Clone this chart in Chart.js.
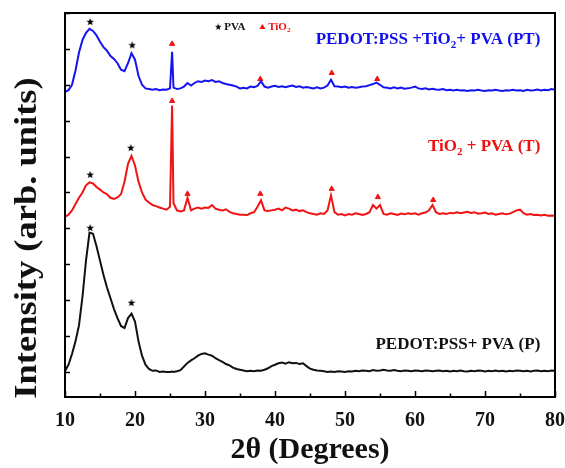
<!DOCTYPE html>
<html>
<head>
<meta charset="utf-8">
<script src="https://cdn.jsdelivr.net/npm/chart.js@4.4.0/dist/chart.umd.min.js"></script>
<style>
  html, body { margin: 0; padding: 0; background: #fff; }
  #wrap { width: 565px; height: 468px; }
</style>
</head>
<body>
<div id="wrap"><canvas id="xrd"></canvas></div>
<script>
// 2-theta grid (degrees)
var twoTheta = [
  10.0, 10.5, 11.0, 11.5, 12.0, 12.5, 13.0, 13.5, 14.0, 14.5,
  15.0, 15.5, 16.0, 16.5, 17.0, 17.5, 18.0, 18.5, 19.0, 19.5,
  20.0, 20.5, 21.0, 21.5, 22.0, 22.5, 23.0, 23.5, 24.0, 24.5,
  25.0, 25.3, 25.5, 26.0, 26.5, 27.0, 27.5, 28.0, 28.5, 29.0, 29.5,
  30.0, 30.5, 31.0, 31.5, 32.0, 32.5, 33.0, 33.5, 34.0, 34.5,
  35.0, 35.5, 36.0, 36.5, 37.0, 37.5, 38.0, 38.5, 39.0, 39.5,
  40.0, 40.5, 41.0, 41.5, 42.0, 42.5, 43.0, 43.5, 44.0, 44.5,
  45.0, 45.5, 46.0, 46.5, 47.0, 47.5, 48.0, 48.5, 49.0, 49.5,
  50.0, 50.5, 51.0, 51.5, 52.0, 52.5, 53.0, 53.5, 54.0, 54.5,
  55.0, 55.5, 56.0, 56.5, 57.0, 57.5, 58.0, 58.5, 59.0, 59.5,
  60.0, 60.5, 61.0, 61.5, 62.0, 62.5, 63.0, 63.5, 64.0, 64.5,
  65.0, 65.5, 66.0, 66.5, 67.0, 67.5, 68.0, 68.5, 69.0, 69.5,
  70.0, 70.5, 71.0, 71.5, 72.0, 72.5, 73.0, 73.5, 74.0, 74.5,
  75.0, 75.5, 76.0, 76.5, 77.0, 77.5, 78.0, 78.5, 79.0, 79.5,
  80.0
];

// PEDOT:PSS + TiO2 + PVA (PT), stacked offset included
var seriesPT = [
  7.80, 7.85, 8.00, 8.40, 8.90, 9.25, 9.45, 9.56, 9.50, 9.38,
  9.20, 9.05, 8.95, 8.80, 8.72, 8.60, 8.42, 8.38, 8.60, 8.88,
  8.70, 8.25, 8.00, 7.90, 7.88, 7.86, 7.88, 7.85, 7.87, 7.86,
  7.90, 8.92, 7.92, 7.88, 7.90, 7.95, 8.05, 7.98, 8.05, 8.10, 8.08,
  8.12, 8.10, 8.13, 8.08, 8.10, 8.05, 8.02, 8.00, 7.98, 7.95,
  7.90, 7.92, 7.90, 7.95, 7.93, 7.97, 8.10, 7.95, 7.92, 7.95,
  7.97, 7.94, 7.96, 7.93, 7.96, 7.98, 7.94, 7.96, 7.92, 7.94,
  7.92, 7.90, 7.93, 7.90, 7.92, 7.98, 8.14, 7.96, 7.95, 7.93,
  7.95, 7.92, 7.94, 7.92, 7.93, 7.95, 7.96, 7.99, 8.02, 8.06,
  8.00, 7.93, 7.92, 7.90, 7.93, 7.90, 7.92, 7.89, 7.90, 7.92,
  7.95, 7.90, 7.88, 7.90, 7.87, 7.89, 7.87, 7.86, 7.88, 7.85,
  7.86, 7.84, 7.86, 7.84, 7.85, 7.83, 7.85, 7.84, 7.86, 7.84,
  7.83, 7.85, 7.84, 7.86, 7.84, 7.83, 7.85, 7.84, 7.86, 7.84,
  7.85, 7.83, 7.86, 7.84, 7.85, 7.87, 7.84, 7.86, 7.85, 7.88,
  7.86
];

// TiO2 + PVA (T)
var seriesT = [
  4.32, 4.38, 4.50, 4.68, 4.85, 5.00, 5.20, 5.28, 5.25, 5.15,
  5.08, 5.00, 4.95, 4.85, 4.82, 4.86, 4.95, 5.30, 5.80, 6.02,
  5.75, 5.30, 5.00, 4.80, 4.72, 4.65, 4.62, 4.58, 4.55, 4.52,
  4.60, 7.42, 4.70, 4.50, 4.47, 4.50, 4.85, 4.50, 4.55, 4.58, 4.55,
  4.58, 4.57, 4.65, 4.55, 4.52, 4.50, 4.53, 4.46, 4.42, 4.40,
  4.38, 4.38, 4.37, 4.42, 4.45, 4.60, 4.78, 4.50, 4.48, 4.50,
  4.52, 4.55, 4.50, 4.58, 4.55, 4.50, 4.52, 4.48, 4.50, 4.45,
  4.42, 4.40, 4.38, 4.42, 4.40, 4.50, 4.92, 4.45, 4.38, 4.40,
  4.36, 4.40, 4.38, 4.42, 4.40, 4.37, 4.40, 4.45, 4.65, 4.55,
  4.65, 4.40, 4.38, 4.42, 4.40, 4.37, 4.41, 4.39, 4.42, 4.40,
  4.42, 4.38, 4.42, 4.44, 4.50, 4.65, 4.45, 4.40, 4.42, 4.40,
  4.43, 4.42, 4.45, 4.42, 4.44, 4.46, 4.43, 4.45, 4.41, 4.42,
  4.44, 4.40, 4.42, 4.38, 4.40, 4.42, 4.39, 4.41, 4.45, 4.50,
  4.52, 4.42, 4.38, 4.40, 4.37, 4.38, 4.36, 4.38, 4.35, 4.36,
  4.35
];

// PEDOT:PSS + PVA (P)
var seriesP = [
  0.02, 0.20, 0.50, 0.85, 1.30, 2.10, 3.10, 3.88, 3.85, 3.50,
  3.10, 2.70, 2.35, 2.05, 1.75, 1.50, 1.28, 1.22, 1.50, 1.62,
  1.40, 0.85, 0.45, 0.20, 0.08, 0.03, 0.04, 0.00, 0.01, 0.00,
  0.00, 0.01, 0.00, 0.02, 0.05, 0.15, 0.25, 0.32, 0.38, 0.45, 0.50,
  0.52, 0.48, 0.45, 0.38, 0.33, 0.28, 0.22, 0.18, 0.12, 0.08,
  0.06, 0.04, 0.02, 0.03, 0.02, 0.04, 0.03, 0.06, 0.10, 0.16,
  0.20, 0.24, 0.26, 0.23, 0.27, 0.24, 0.25, 0.22, 0.24, 0.16,
  0.09, 0.06, 0.04, 0.03, 0.02, 0.00, 0.01, 0.00, 0.02, 0.01,
  0.00, 0.02, 0.01, 0.03, 0.02, 0.04, 0.03, 0.02, 0.05, 0.03,
  0.04, 0.06, 0.04, 0.03, 0.05, 0.03, 0.02, 0.04, 0.03, 0.02,
  0.04, 0.03, 0.02, 0.04, 0.03, 0.02, 0.03, 0.04, 0.02, 0.03,
  0.01, 0.03, 0.02, 0.04, 0.02, 0.01, 0.03, 0.02, 0.04, 0.03,
  0.01, 0.03, 0.02, 0.04, 0.02, 0.03, 0.01, 0.03, 0.02, 0.04,
  0.03, 0.02, 0.03, 0.01, 0.03, 0.04, 0.02, 0.03, 0.02, 0.04,
  0.03
];

// peak markers
var pvaStarX = [13.6, 19.6, 13.6, 19.4, 13.6, 19.5];
var pvaStarY = [9.75, 9.10, 5.49, 6.24, 4.01, 1.92];
var tio2X = [25.3, 37.9, 48.1, 54.6, 25.3, 27.5, 37.9, 48.1, 54.7, 62.6];
var tio2Y = [9.14, 8.16, 8.33, 8.16, 7.55, 4.96, 4.96, 5.10, 4.87, 4.79];

var xTicks = [10, 15, 20, 25, 30, 35, 40, 45, 50, 55, 60, 65, 70, 75, 80];
var yTicks = [0, 1, 2, 3, 4, 5, 6, 7, 8, 9, 10];

var SERIF = '"Liberation Serif", "Times New Roman", serif';

function toPoints(xs, ys) {
  return xs.map(function(x, i) { return { x: x, y: ys[i] }; });
}

// filled five point star used as a point style
function makeStar(size) {
  var c = document.createElement('canvas');
  c.width = size; c.height = size;
  var g = c.getContext('2d');
  var cx = size / 2, cy = size / 2, ro = size / 2, ri = ro * 0.42;
  g.beginPath();
  for (var i = 0; i < 10; i++) {
    var r = i % 2 === 0 ? ro : ri;
    var a = -Math.PI / 2 + i * Math.PI / 5;
    g.lineTo(cx + r * Math.cos(a), cy + r * Math.sin(a));
  }
  g.closePath();
  g.fillStyle = '#000';
  g.fill();
  return c;
}
var starImg = makeStar(8);

// text with a subscript part: parts = [[text, isSub], ...], right aligned
function drawRich(ctx, parts, xRight, yMid, size, color) {
  var full = 'bold ' + size + 'px ' + SERIF;
  var sub = 'bold ' + Math.round(size * 0.62) + 'px ' + SERIF;
  var w = 0;
  parts.forEach(function(p) {
    ctx.font = p[1] ? sub : full;
    w += ctx.measureText(p[0]).width;
  });
  var x = xRight - w;
  ctx.fillStyle = color;
  ctx.textBaseline = 'middle';
  ctx.textAlign = 'left';
  parts.forEach(function(p) {
    ctx.font = p[1] ? sub : full;
    ctx.fillText(p[0], x, p[1] ? yMid + size * 0.3 : yMid);
    x += ctx.measureText(p[0]).width;
  });
}

var decorations = {
  id: 'decorations',
  afterDraw: function(chart) {
    var ctx = chart.ctx;
    var a = chart.chartArea;
    var xs = chart.scales.x, ys = chart.scales.y;
    ctx.save();

    // frame
    ctx.strokeStyle = '#000';
    ctx.lineWidth = 2;
    ctx.strokeRect(a.left, a.top, a.right - a.left, a.bottom - a.top);

    // inward ticks
    ctx.lineWidth = 1.5;
    ctx.beginPath();
    xTicks.forEach(function(v) {
      var px = Math.round(xs.getPixelForValue(v)) + 0.5;
      var len = v % 10 === 0 ? 6 : 3.5;
      ctx.moveTo(px, a.bottom);
      ctx.lineTo(px, a.bottom - len);
    });
    yTicks.forEach(function(v) {
      var py = Math.round(ys.getPixelForValue(v)) + 0.5;
      ctx.moveTo(a.left, py);
      ctx.lineTo(a.left + 5, py);
    });
    ctx.stroke();

    // series labels
    var xr = xs.getPixelForValue(77.9);
    drawRich(ctx, [['PEDOT:PSS +TiO', false], ['2', true], ['+ PVA (PT)', false]],
      xr, ys.getPixelForValue(9.25), 17, '#1010ee');
    drawRich(ctx, [['TiO', false], ['2', true], [' + PVA (T)', false]],
      xr, ys.getPixelForValue(6.27), 17, '#ee1010');
    drawRich(ctx, [['PEDOT:PSS+ PVA (P)', false]],
      xr, ys.getPixelForValue(0.75), 17, '#111');

    // marker legend
    var ly = ys.getPixelForValue(9.61);
    var lx = xs.getPixelForValue(31.9);
    ctx.drawImage(starImg, lx - 3.5, ly - 3.5, 7, 7);
    ctx.font = 'bold 11px ' + SERIF;
    ctx.fillStyle = '#111';
    ctx.textBaseline = 'middle';
    ctx.textAlign = 'left';
    ctx.fillText('PVA', lx + 6, ly);
    var tx = xs.getPixelForValue(38.2);
    ctx.fillStyle = '#ee1010';
    ctx.beginPath();
    ctx.moveTo(tx, ly - 3);
    ctx.lineTo(tx + 3, ly + 2);
    ctx.lineTo(tx - 3, ly + 2);
    ctx.closePath();
    ctx.fill();
    drawRich(ctx, [['TiO', false], ['2', true]], tx + 28, ly, 11, '#ee1010');

    // y axis title (slightly stretched along its length like the original)
    ctx.translate(36, 238);
    ctx.rotate(-Math.PI / 2);
    ctx.scale(1.14, 1);
    ctx.font = 'bold 32px ' + SERIF;
    ctx.fillStyle = '#111';
    ctx.textAlign = 'center';
    ctx.textBaseline = 'alphabetic';
    ctx.fillText('Intensity (arb. units)', 0, 0);
    ctx.restore();
  }
};

var ctx = document.getElementById('xrd').getContext('2d');
var chart = new Chart(ctx, {
  type: 'line',
  data: {
    datasets: [
      {
        label: 'PT',
        data: toPoints(twoTheta, seriesPT),
        borderColor: '#1414f0',
        borderWidth: 2,
        pointRadius: 0,
        tension: 0
      },
      {
        label: 'T',
        data: toPoints(twoTheta, seriesT),
        borderColor: '#f01414',
        borderWidth: 2,
        pointRadius: 0,
        tension: 0
      },
      {
        label: 'P',
        data: toPoints(twoTheta, seriesP),
        borderColor: '#111',
        borderWidth: 2,
        pointRadius: 0,
        tension: 0
      },
      {
        label: 'PVA',
        type: 'scatter',
        data: toPoints(pvaStarX, pvaStarY),
        pointStyle: starImg,
        pointRadius: 4
      },
      {
        label: 'TiO2',
        type: 'scatter',
        data: toPoints(tio2X, tio2Y),
        pointStyle: 'triangle',
        pointRadius: 3,
        backgroundColor: '#f01414',
        borderColor: '#f01414',
        borderWidth: 1
      }
    ]
  },
  options: {
    responsive: true,
    maintainAspectRatio: false,
    animation: false,
    layout: { padding: { left: 65, right: 10, top: 13, bottom: 3 } },
    plugins: {
      legend: { display: false },
      tooltip: { enabled: false }
    },
    scales: {
      x: {
        type: 'linear',
        min: 10,
        max: 80,
        grid: { display: false, drawTicks: false },
        border: { display: false },
        ticks: {
          stepSize: 10,
          padding: 12,
          color: '#111',
          font: { family: SERIF, size: 20, weight: 'bold' }
        },
        title: {
          display: true,
          text: '2\u03b8 (Degrees)',
          color: '#111',
          padding: 0,
          font: { family: SERIF, size: 30, weight: 'bold', lineHeight: 1 }
        },
        afterFit: function(scale) {
          scale.height = 68;
          scale.paddingLeft = 0;
          scale.paddingRight = 0;
        }
      },
      y: {
        display: false,
        min: -0.7,
        max: 10
      }
    }
  },
  plugins: [decorations]
});
</script>
</body>
</html>
